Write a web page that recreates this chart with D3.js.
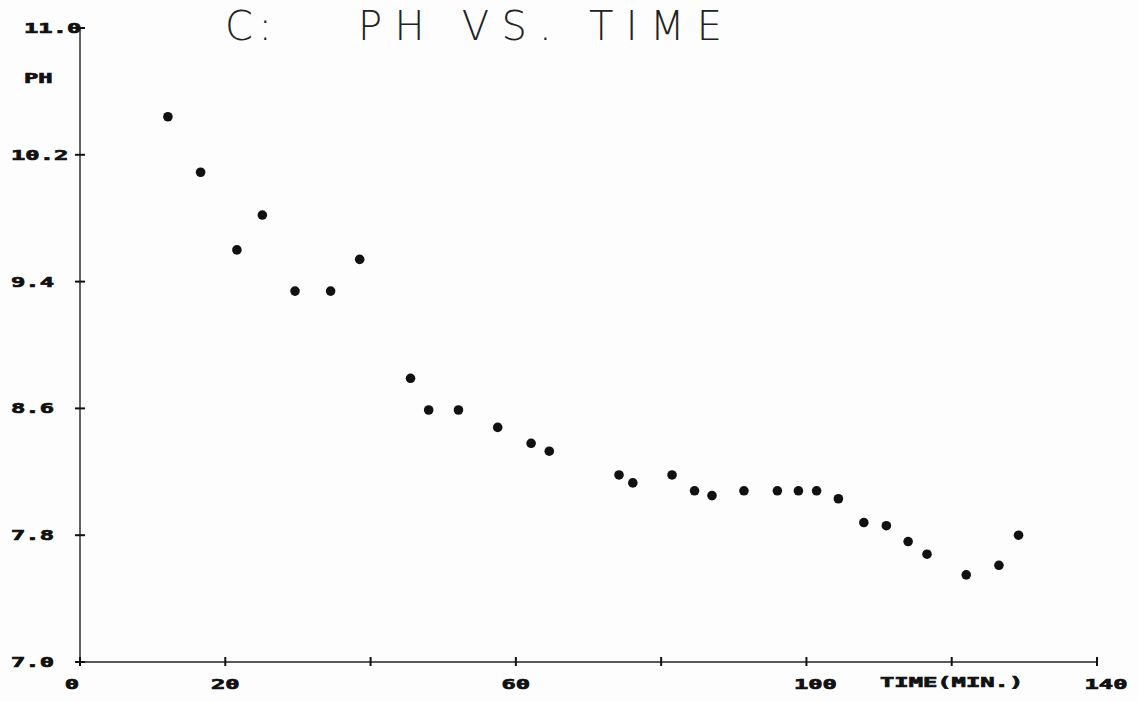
<!DOCTYPE html>
<html>
<head>
<meta charset="utf-8">
<script src="https://cdn.jsdelivr.net/npm/d3@7"></script>
<style>
  body { margin: 0; background: #fdfdfd; }
  svg { display: block; }
</style>
</head>
<body>
<svg></svg>
<script>
// measured points: time in minutes, pH
var times = [12.1, 16.6, 21.6, 25.1, 29.6, 34.5, 38.5, 45.5, 48.0, 52.1,
             57.5, 62.1, 64.6, 74.2, 76.1, 81.5, 84.6, 87.0, 91.4, 96.0,
             98.9, 101.4, 104.4, 107.9, 111.0, 114.0, 116.6, 122.0, 126.5, 129.2];
var phValues = [10.44, 10.09, 9.60, 9.82, 9.34, 9.34, 9.54, 8.79, 8.59, 8.59,
                8.48, 8.38, 8.33, 8.18, 8.13, 8.18, 8.08, 8.05, 8.08, 8.08,
                8.08, 8.08, 8.03, 7.88, 7.86, 7.76, 7.68, 7.55, 7.61, 7.80];

// tick values and the labels printed next to them
var xTicks = [0, 20, 40, 60, 80, 100, 120, 140];
var xTickLabels = {0: "0", 20: "20", 60: "60", 100: "100", 140: "140"};
var yTicks = [7.0, 7.8, 8.6, 9.4, 10.2, 11.0];

var width = 1138, height = 702;

var svg = d3.select("svg")
    .attr("width", width)
    .attr("height", height);

var x = d3.scaleLinear().domain([0, 140]).range([80, 1097]);
var y = d3.scaleLinear().domain([7.0, 11.0]).range([662, 28]);

var tickFont = "'DejaVu Sans Mono', monospace";
var wide = 1.7; // the plotter characters are much wider than a normal font

// place a wide blocky label; anchor "start" or "middle"
function plotterText(str, px, py, anchor) {
    var g = svg.append("g")
        .attr("transform", "translate(" + px + "," + py + ") scale(" + wide + ",1)");
    g.append("text")
        .attr("text-anchor", anchor)
        .attr("font-family", tickFont)
        .attr("font-weight", "bold")
        .attr("font-size", 14)
        .attr("fill", "#111")
        .attr("stroke", "#111")
        .attr("stroke-width", 0.7)
        .text(str);
}

// axes
svg.append("line")
    .attr("x1", x(0)).attr("x2", x(0))
    .attr("y1", y(11.0)).attr("y2", y(7.0))
    .attr("stroke", "#222").attr("stroke-width", 1.4);

svg.append("line")
    .attr("x1", x(0)).attr("x2", x(140))
    .attr("y1", y(7.0)).attr("y2", y(7.0))
    .attr("stroke", "#222").attr("stroke-width", 1.4);

// y ticks: small crosses on the axis
svg.selectAll(".ytick")
    .data(yTicks)
    .enter().append("line")
    .attr("class", "ytick")
    .attr("x1", x(0) - 5).attr("x2", x(0) + 5)
    .attr("y1", function (d) { return y(d); })
    .attr("y2", function (d) { return y(d); })
    .attr("stroke", "#111").attr("stroke-width", 2);

yTicks.forEach(function (d) {
    plotterText(d.toFixed(1), d >= 10.5 ? 24 : 11, y(d) + 5, "start");
});

// x ticks
svg.selectAll(".xtick")
    .data(xTicks)
    .enter().append("line")
    .attr("class", "xtick")
    .attr("x1", function (d) { return x(d); })
    .attr("x2", function (d) { return x(d); })
    .attr("y1", y(7.0) - 5).attr("y2", y(7.0) + 4)
    .attr("stroke", "#111").attr("stroke-width", 2);

xTicks.forEach(function (d) {
    if (!xTickLabels[d]) return;
    var off = d >= 100 ? 9 : (d === 0 ? -8 : 0);
    plotterText(xTickLabels[d], x(d) + off, 689, "middle");
});

// axis titles
plotterText("TIME(MIN.)", 880, 687, "start");
plotterText("PH", 24, 83, "start");

// chart title
var titleFont = "'DejaVu Sans', sans-serif";
svg.append("text")
    .attr("x", 225).attr("y", 40)
    .attr("font-family", titleFont)
    .attr("font-weight", 300)
    .attr("font-size", 40)
    .attr("fill", "#222")
    .attr("lengthAdjust", "spacing")
    .attr("textLength", 47)
    .text("C:");

svg.append("text")
    .attr("x", 358).attr("y", 40)
    .attr("font-family", titleFont)
    .attr("font-weight", 300)
    .attr("font-size", 40)
    .attr("fill", "#222")
    .attr("lengthAdjust", "spacing")
    .attr("textLength", 364)
    .text("PH VS. TIME");

// data points
svg.selectAll(".pt")
    .data(times)
    .enter().append("circle")
    .attr("class", "pt")
    .attr("cx", function (d) { return x(d); })
    .attr("cy", function (d, i) { return y(phValues[i]); })
    .attr("r", 4.8)
    .attr("fill", "#111");
</script>
</body>
</html>
